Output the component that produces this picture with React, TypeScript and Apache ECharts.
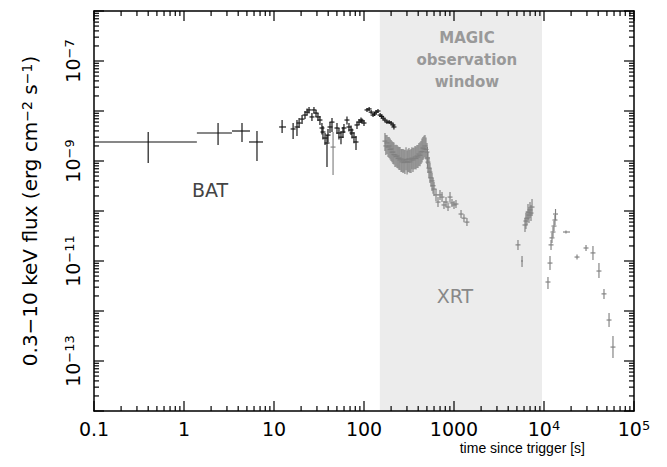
import React, { useEffect, useRef } from "react";
import * as echarts from "echarts";

// ---- axis ranges and ticks ----
const xRange = [0.1, 1e5];
const yRange = [1e-14, 1e-6];
const xDecades = [-1, 0, 1, 2, 3, 4, 5];
const yDecades = [-14, -13, -12, -11, -10, -9, -8, -7, -6];
const xPlainLabels: Record<number, string> = { [-1]: "0.1", 0: "1", 1: "10", 2: "100", 3: "1000" };

// MAGIC observation window (s)
const magicWindow = [150, 9500];

// ---- data: [time, flux, dexDown, dexUp, tLo, tHi] ----
const batPoints: number[][] = [
  [0.4, 2.4e-9, 0.42, 0.2, 0.1, 1.39],
  [2.39, 3.63e-9, 0.24, 0.2, 1.39, 3.41],
  [4.41, 3.98e-9, 0.22, 0.16, 3.41, 5.41],
  [6.47, 2.4e-9, 0.38, 0.22, 5.27, 7.55],
  [12.3, 4.79e-9, 0.12, 0.14, 11.4, 13.6],
  [16.3, 4.37e-9, 0.2, 0.12, 0, 0],
  [18.0, 4.79e-9, 0.18, 0.14, 0, 0],
  [19.0, 5.75e-9, 0.1, 0.1, 0, 0],
  [20.5, 6.9e-9, 0.1, 0.08, 0, 0],
  [22.1, 8.3e-9, 0.08, 0.08, 0, 0],
  [23.3, 9.5e-9, 0.07, 0.07, 0, 0],
  [24.5, 1.05e-8, 0.07, 0.06, 0, 0],
  [26.4, 7.6e-9, 0.08, 0.08, 0, 0],
  [27.8, 1.05e-8, 0.07, 0.06, 0, 0],
  [29.3, 9.1e-9, 0.08, 0.06, 0, 0],
  [30.8, 7.6e-9, 0.08, 0.08, 0, 0],
  [32.4, 6.6e-9, 0.1, 0.08, 0, 0],
  [34.1, 4.57e-9, 0.13, 0.1, 0, 0],
  [35.0, 3.8e-9, 0.15, 0.12, 0, 0],
  [36.9, 2.88e-9, 0.14, 0.1, 0, 0],
  [38.8, 2.29e-9, 0.48, 0.16, 0, 0],
  [39.8, 3.3e-9, 0.14, 0.12, 0, 0],
  [41.9, 4.79e-9, 0.12, 0.1, 0, 0],
  [44.1, 6.0e-9, 0.2, 0.08, 0, 0],
  [50.1, 4.57e-9, 0.12, 0.1, 0, 0],
  [52.7, 3.63e-9, 0.13, 0.1, 0, 0],
  [55.5, 3.0e-9, 0.14, 0.12, 0, 0],
  [58.4, 3.8e-9, 0.12, 0.1, 0, 0],
  [59.9, 4.57e-9, 0.1, 0.08, 0, 0],
  [64.7, 6.6e-9, 0.09, 0.07, 0, 0],
  [68.1, 4.79e-9, 0.09, 0.08, 0, 0],
  [71.7, 4.17e-9, 0.1, 0.09, 0, 0],
  [73.6, 3.63e-9, 0.11, 0.09, 0, 0],
  [77.4, 3.0e-9, 0.12, 0.1, 0, 0],
  [81.5, 2.4e-9, 0.16, 0.12, 0, 0],
  [83.6, 5.25e-9, 0.08, 0.07, 0, 0],
  [88.0, 6.0e-9, 0.06, 0.06, 0, 0],
  [92.6, 6.6e-9, 0.06, 0.05, 0, 0],
  [95.0, 6.3e-9, 0.05, 0.05, 0, 0],
  [100, 5.75e-9, 0.06, 0.06, 0, 0],
  [108, 1.05e-8, 0.04, 0.04, 0, 0],
  [114, 1.1e-8, 0.04, 0.04, 0, 0],
  [120, 9.5e-9, 0.04, 0.04, 0, 0],
  [126, 8.3e-9, 0.04, 0.04, 0, 0],
  [131, 8.7e-9, 0.04, 0.04, 0, 0],
  [136, 9.5e-9, 0.04, 0.04, 0, 0],
  [143, 1.0e-8, 0.04, 0.04, 0, 0],
  [151, 8.3e-9, 0.04, 0.04, 0, 0],
  [157, 7.8e-9, 0.04, 0.04, 0, 0],
  [163, 7.2e-9, 0.04, 0.04, 0, 0],
  [171, 6.6e-9, 0.04, 0.04, 0, 0],
  [180, 6.0e-9, 0.04, 0.04, 0, 0],
  [190, 6.0e-9, 0.04, 0.04, 0, 0],
  [200, 5.75e-9, 0.04, 0.04, 0, 0],
  [210, 5.25e-9, 0.04, 0.04, 0, 0],
  [215, 4.79e-9, 0.05, 0.05, 0, 0],
];

const xrtPoints: number[][] = [
  [45.3, 1.9e-9, 0.56, 0.3, 0, 0],
  [171, 2.5e-9, 0.2, 0.16, 0, 0],
  [175, 2.0e-9, 0.18, 0.22, 0, 0],
  [180, 2.3e-9, 0.22, 0.16, 0, 0],
  [185, 1.9e-9, 0.2, 0.2, 0, 0],
  [190, 2.0e-9, 0.24, 0.18, 0, 0],
  [195, 1.7e-9, 0.2, 0.22, 0, 0],
  [200, 1.74e-9, 0.24, 0.18, 0, 0],
  [205, 1.5e-9, 0.2, 0.22, 0, 0],
  [210, 1.51e-9, 0.24, 0.2, 0, 0],
  [215, 1.35e-9, 0.2, 0.24, 0, 0],
  [221, 1.32e-9, 0.24, 0.2, 0, 0],
  [227, 1.22e-9, 0.2, 0.24, 0, 0],
  [233, 1.26e-9, 0.24, 0.22, 0, 0],
  [239, 1.12e-9, 0.2, 0.24, 0, 0],
  [245, 1.15e-9, 0.24, 0.22, 0, 0],
  [251, 1.05e-9, 0.2, 0.26, 0, 0],
  [258, 1.1e-9, 0.26, 0.2, 0, 0],
  [264, 9.6e-10, 0.2, 0.26, 0, 0],
  [271, 1.05e-9, 0.26, 0.22, 0, 0],
  [278, 9.3e-10, 0.2, 0.26, 0, 0],
  [285, 1.0e-9, 0.26, 0.22, 0, 0],
  [293, 1.08e-9, 0.22, 0.24, 0, 0],
  [301, 9.8e-10, 0.26, 0.22, 0, 0],
  [308, 9.4e-10, 0.2, 0.26, 0, 0],
  [316, 1.1e-9, 0.26, 0.22, 0, 0],
  [324, 9.6e-10, 0.22, 0.24, 0, 0],
  [333, 1.05e-9, 0.26, 0.22, 0, 0],
  [341, 1.14e-9, 0.22, 0.22, 0, 0],
  [350, 1.05e-9, 0.24, 0.24, 0, 0],
  [359, 1.12e-9, 0.22, 0.22, 0, 0],
  [369, 1.2e-9, 0.24, 0.22, 0, 0],
  [378, 1.12e-9, 0.22, 0.24, 0, 0],
  [388, 1.26e-9, 0.24, 0.22, 0, 0],
  [398, 1.2e-9, 0.22, 0.24, 0, 0],
  [408, 1.38e-9, 0.24, 0.22, 0, 0],
  [419, 1.3e-9, 0.22, 0.26, 0, 0],
  [430, 1.51e-9, 0.24, 0.22, 0, 0],
  [441, 1.55e-9, 0.22, 0.26, 0, 0],
  [452, 1.82e-9, 0.24, 0.22, 0, 0],
  [464, 1.75e-9, 0.2, 0.26, 0, 0],
  [476, 2.0e-9, 0.22, 0.22, 0, 0],
  [488, 1.7e-9, 0.2, 0.24, 0, 0],
  [501, 1.51e-9, 0.24, 0.18, 0, 0],
  [507, 1.15e-9, 0.2, 0.22, 0, 0],
  [514, 9.5e-10, 0.22, 0.2, 0, 0],
  [527, 7.2e-10, 0.2, 0.22, 0, 0],
  [541, 6.0e-10, 0.22, 0.18, 0, 0],
  [555, 4.6e-10, 0.18, 0.2, 0, 0],
  [570, 4.0e-10, 0.2, 0.16, 0, 0],
  [585, 3.2e-10, 0.16, 0.16, 0, 0],
  [600, 2.75e-10, 0.14, 0.14, 0, 0],
  [631, 2.1e-10, 0.12, 0.12, 0, 0],
  [664, 1.51e-10, 0.1, 0.1, 0, 0],
  [699, 2.1e-10, 0.1, 0.1, 0, 0],
  [736, 1.9e-10, 0.1, 0.1, 0, 0],
  [774, 1.32e-10, 0.08, 0.08, 0, 0],
  [815, 1.51e-10, 0.1, 0.1, 0, 0],
  [858, 1.2e-10, 0.08, 0.08, 0, 0],
  [903, 1.9e-10, 0.1, 0.1, 0, 0],
  [950, 1.45e-10, 0.08, 0.08, 0, 0],
  [1000, 1.32e-10, 0.08, 0.08, 0, 0],
  [1052, 1.38e-10, 0.08, 0.08, 0, 0],
  [1197, 8.7e-11, 0.08, 0.08, 0, 0],
  [1291, 7.2e-11, 0.08, 0.08, 0, 0],
  [1393, 6.0e-11, 0.08, 0.08, 0, 0],
  [5140, 2.1e-11, 0.1, 0.1, 0, 0],
  [5700, 1.0e-11, 0.12, 0.1, 5550, 5850],
  [6150, 5.25e-11, 0.14, 0.14, 0, 0],
  [6300, 6.3e-11, 0.16, 0.16, 0, 0],
  [6470, 7.2e-11, 0.14, 0.14, 0, 0],
  [6640, 9.5e-11, 0.16, 0.16, 0, 0],
  [6810, 8.3e-11, 0.16, 0.16, 0, 0],
  [6990, 1.05e-10, 0.16, 0.16, 0, 0],
  [7170, 9.1e-11, 0.16, 0.16, 0, 0],
  [7360, 1.2e-10, 0.18, 0.16, 0, 0],
  [11070, 3.8e-12, 0.14, 0.1, 0, 0],
  [11660, 9.1e-12, 0.14, 0.14, 0, 0],
  [11970, 2.1e-11, 0.1, 0.1, 0, 0],
  [12270, 2.9e-11, 0.1, 0.1, 0, 0],
  [12590, 3.8e-11, 0.1, 0.1, 0, 0],
  [12910, 5.0e-11, 0.1, 0.1, 0, 0],
  [13240, 6.6e-11, 0.1, 0.1, 0, 0],
  [13430, 8.7e-11, 0.12, 0.1, 0, 0],
  [17550, 3.8e-11, 0.03, 0.03, 16260, 19450],
  [23270, 1.2e-11, 0.05, 0.05, 0, 0],
  [29300, 1.82e-11, 0.06, 0.06, 0, 0],
  [35000, 1.45e-11, 0.14, 0.14, 0, 0],
  [40800, 6.3e-12, 0.14, 0.16, 0, 0],
  [46400, 2.2e-12, 0.1, 0.1, 0, 0],
  [52800, 6.6e-13, 0.14, 0.14, 0, 0],
  [58400, 1.9e-13, 0.22, 0.22, 0, 0],
];

const FONT = "DejaVu Sans";

function minorValues(decades: number[]) {
  const out: number[] = [];
  for (let i = 0; i < decades.length - 1; i++) {
    for (let m = 2; m <= 9; m++) out.push(m * Math.pow(10, decades[i]));
  }
  return out;
}

function errorSeries(name: string, points: number[][], color: string, z: number, arm: number) {
  return {
    name,
    type: "custom",
    z,
    clip: true,
    silent: true,
    encode: { x: 0, y: 1 },
    data: points,
    renderItem: (_p: any, api: any) => {
      const t = api.value(0);
      const f = api.value(1);
      const ed = api.value(2);
      const eu = api.value(3);
      const tl = api.value(4);
      const th = api.value(5);
      const c = api.coord([t, f]);
      const lo = api.coord([t, f * Math.pow(10, -ed)]);
      const hi = api.coord([t, f * Math.pow(10, eu)]);
      let x1 = c[0] - arm;
      let x2 = c[0] + arm;
      if (tl > 0 && th > 0) {
        x1 = api.coord([tl, f])[0];
        x2 = api.coord([th, f])[0];
      }
      const style = { stroke: color, lineWidth: 1.15 };
      return {
        type: "group",
        children: [
          { type: "line", shape: { x1: c[0], y1: lo[1], x2: c[0], y2: hi[1] }, style },
          { type: "line", shape: { x1, y1: c[1], x2, y2: c[1] }, style },
        ],
      };
    },
  };
}

function tickSeries(values: number[], axis: "x" | "y", len: number) {
  return {
    type: "custom",
    z: 30,
    silent: true,
    clip: false,
    encode: { x: 0, y: 1 },
    data: values.map((v) => (axis === "x" ? [v, 1e-10] : [1, v])),
    renderItem: (_p: any, api: any) => {
      const style = { stroke: "#000", lineWidth: 1.2 };
      if (axis === "x") {
        const v = api.value(0);
        const b = api.coord([v, yRange[0]]);
        const t = api.coord([v, yRange[1]]);
        return {
          type: "group",
          children: [
            { type: "line", shape: { x1: b[0], y1: b[1], x2: b[0], y2: b[1] - len }, style },
            { type: "line", shape: { x1: t[0], y1: t[1], x2: t[0], y2: t[1] + len }, style },
          ],
        };
      }
      const v = api.value(1);
      const l = api.coord([xRange[0], v]);
      const r = api.coord([xRange[1], v]);
      return {
        type: "group",
        children: [
          { type: "line", shape: { x1: l[0], y1: l[1], x2: l[0] + len, y2: l[1] }, style },
          { type: "line", shape: { x1: r[0], y1: r[1], x2: r[0] - len, y2: r[1] }, style },
        ],
      };
    },
  };
}

const supRich = {
  b: { fontFamily: FONT, fontSize: 19, color: "#000", lineHeight: 19 },
  s: { fontFamily: FONT, fontSize: 13, color: "#000", lineHeight: 13, verticalAlign: "top" },
};

export default function App() {
  const ref = useRef<HTMLDivElement>(null);
  useEffect(() => {
    if (!ref.current) return;
    const chart = echarts.init(ref.current, undefined, { renderer: "svg" });
    const axisLine = { show: true, lineStyle: { color: "#000", width: 1.5 } };
    const option: any = {
      animation: false,
      backgroundColor: "#fff",
      grid: { left: 94, top: 11, width: 540, height: 400, containLabel: false, outerBoundsMode: "none" },
      xAxis: [
        {
          type: "log",
          logBase: 10,
          min: xRange[0],
          max: xRange[1],
          splitNumber: 6,
          z: 10,
          axisLine,
          axisTick: { show: false },
          minorTick: { show: false },
          splitLine: { show: false },
          axisLabel: {
            interval: 0,
            margin: 8,
            fontFamily: FONT,
            fontSize: 19,
            color: "#000",
            formatter: (v: number) => {
              const e = Math.round(Math.log10(v));
              if (xPlainLabels[e] !== undefined) return "{b|" + xPlainLabels[e] + "}";
              return "{b|10}{s|" + e + "}";
            },
            rich: supRich,
          },
        },
        {
          type: "log",
          logBase: 10,
          position: "top",
          min: xRange[0],
          max: xRange[1],
          z: 10,
          axisLine,
          axisTick: { show: false },
          axisLabel: { show: false },
          splitLine: { show: false },
        },
      ],
      yAxis: [
        {
          type: "log",
          logBase: 10,
          min: yRange[0],
          max: yRange[1],
          splitNumber: 8,
          z: 10,
          axisLine,
          axisTick: { show: false },
          minorTick: { show: false },
          splitLine: { show: false },
          name: "0.3−10 keV flux (erg cm{s|−2} s{s|−1})",
          nameLocation: "middle",
          nameRotate: 90,
          nameGap: 54,
          nameTextStyle: {
            fontFamily: FONT,
            fontSize: 20,
            color: "#000",
            rich: {
              s: { fontFamily: FONT, fontSize: 14, color: "#000", lineHeight: 14, verticalAlign: "top" },
            },
          },
          axisLabel: {
            interval: 0,
            rotate: 90,
            margin: 12,
            fontFamily: FONT,
            fontSize: 19,
            color: "#000",
            formatter: (v: number) => {
              const e = Math.round(Math.log10(v));
              if (Math.abs(e) % 2 === 0) return "";
              return "{b|10}{s|−" + -e + "}";
            },
            rich: supRich,
          },
        },
        {
          type: "log",
          logBase: 10,
          position: "right",
          min: yRange[0],
          max: yRange[1],
          z: 10,
          axisLine,
          axisTick: { show: false },
          axisLabel: { show: false },
          splitLine: { show: false },
        },
      ],
      graphic: [
        {
          type: "text",
          x: 210,
          y: 190,
          style: { text: "BAT", fill: "#444", font: `19px "${FONT}"`, textAlign: "center", textVerticalAlign: "middle" },
          z: 40,
        },
        {
          type: "text",
          x: 455,
          y: 296,
          style: { text: "XRT", fill: "#888", font: `19px "${FONT}"`, textAlign: "center", textVerticalAlign: "middle" },
          z: 40,
        },
        {
          type: "text",
          x: 585,
          y: 448,
          style: { text: "time since trigger [s]", fill: "#000", font: `14px "Liberation Sans"`, textAlign: "right", textVerticalAlign: "middle" },
          z: 40,
        },
      ],
      series: [
        {
          type: "line",
          data: [],
          z: 1,
          silent: true,
          markArea: {
            silent: true,
            itemStyle: { color: "#ececec" },
            label: {
              show: true,
              position: "insideTop",
              distance: 16,
              formatter: "MAGIC\nobservation\nwindow",
              fontFamily: FONT,
              fontWeight: "bold",
              fontSize: 15,
              lineHeight: 22,
              color: "#999",
              align: "center",
              padding: [0, 0, 0, 12],
            },
            data: [[{ xAxis: magicWindow[0] }, { xAxis: magicWindow[1] }]],
          },
        },
        errorSeries("XRT", xrtPoints, "#808080", 3, 2.5),
        errorSeries("BAT", batPoints, "#111", 4, 2.5),
        tickSeries(xDecades.map((e) => Math.pow(10, e)), "x", 10),
        tickSeries(minorValues(xDecades), "x", 5),
        tickSeries(yDecades.map((e) => Math.pow(10, e)), "y", 10),
        tickSeries(minorValues(yDecades), "y", 5),
      ],
    };
    chart.setOption(option);
    return () => chart.dispose();
  }, []);
  return <div ref={ref} style={{ position: "fixed", left: 0, top: 0, width: 667, height: 467 }} />;
}
